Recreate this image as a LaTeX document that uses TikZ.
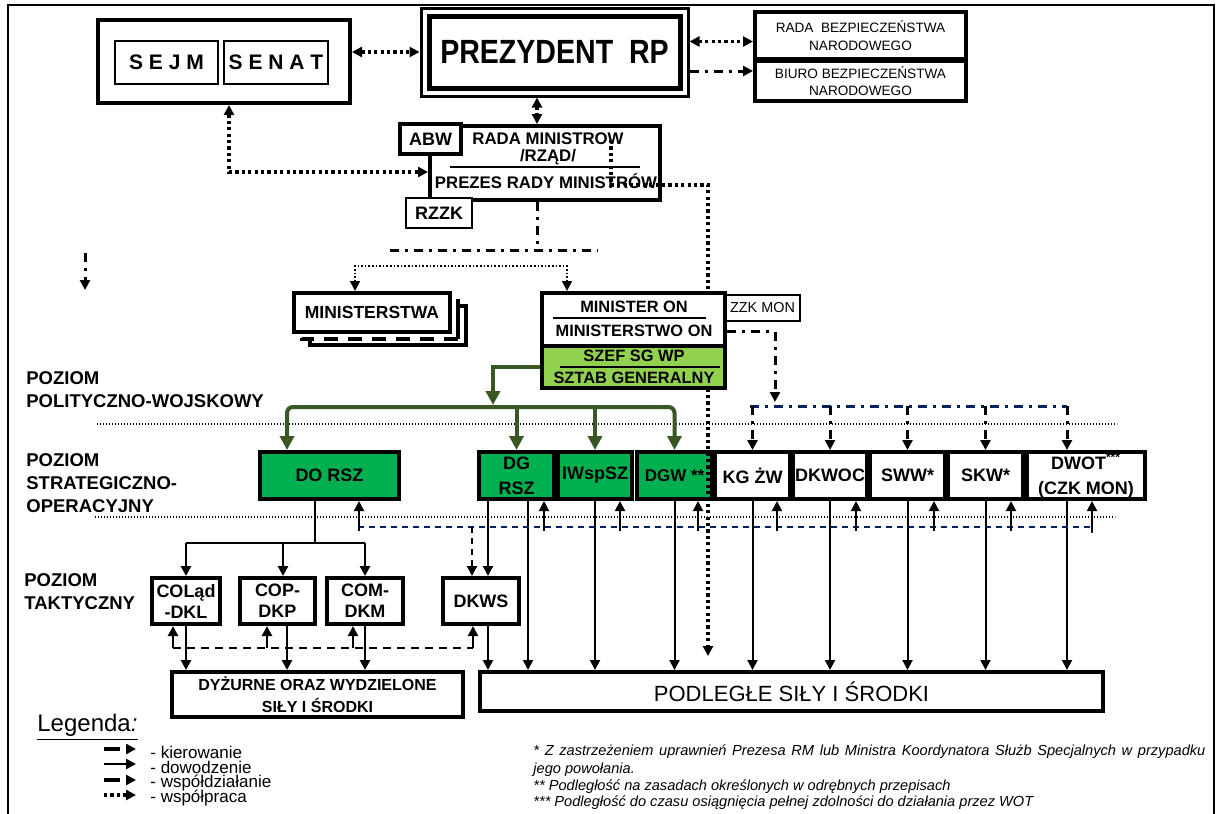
\documentclass[tikz,border=0pt]{standalone}
\usepackage{fontspec}
\setmainfont{Liberation Sans}
\newfontfamily\narrowsans[FakeStretch=0.85]{Liberation Sans}
\usetikzlibrary{arrows.meta}

\definecolor{arrowgreen}{RGB}{56,87,35}
\definecolor{boxgreen}{RGB}{0,176,80}
\definecolor{palegreen}{RGB}{146,208,80}
\definecolor{darknavy}{RGB}{0,32,96}

\tikzset{
  box/.style={draw,line width=2pt,fill=white,inner sep=0pt,align=center,
    font=\fontsize{9}{10.5}\selectfont\bfseries},
  thinbox/.style={box,line width=0.8pt},
  greenbox/.style={box,fill=boxgreen},
  arr/.style={-{Triangle[length=5pt,width=5pt]}},
  twoway/.style={{Triangle[length=5pt,width=5pt]}-{Triangle[length=5pt,width=5pt]}},
  cmd/.style={line width=1pt,arr},
  cmdthick/.style={line width=1.4pt,arr},
  kier/.style={line width=1.5pt,dash pattern=on 4.5pt off 3pt on 1.5pt off 3pt},
  wspd/.style={line width=1pt,dash pattern=on 3pt off 2.5pt},
  wspp/.style={line width=1.6pt,dash pattern=on 1.6pt off 1.6pt},
  levelline/.style={line width=0.6pt,dash pattern=on 0.6pt off 0.9pt},
  greenline/.style={arrowgreen,line width=2pt},
  greentip/.style={-{Triangle[length=7pt,width=7pt]}},
  greentips/.style={{Triangle[length=7pt,width=7pt]}-{Triangle[length=7pt,width=7pt]}},
  levelname/.style={anchor=west,align=left,inner sep=0pt,font=\fontsize{9.25}{11.5}\selectfont\bfseries},
  inbox/.style={inner sep=0pt,font=\fontsize{8.2}{10}\selectfont\bfseries},
  legtext/.style={anchor=west,inner sep=0pt,font=\fontsize{8.5}{9}\selectfont},
  footline/.style={anchor=west,inner sep=0pt,font=\fontsize{7.3}{8}\selectfont\itshape},
}

\begin{document}
\begin{tikzpicture}[x=0.5pt,y=-0.5pt]
  \useasboundingbox (0,0) rectangle (1221,814);
  \draw[line width=1pt] (8,814) -- (8,5) -- (1214,5) -- (1214,814);

  % level lines
  \coordinate (lvla) at (97,424);
  \coordinate (lvlb) at (95,517);
  \draw[levelline] (lvla) -- ++(1020,0);
  \draw[levelline] (lvlb) -- ++(1020,0);
  \node[levelname] (polwoj) at (26,389.5) {POZIOM\\POLITYCZNO-WOJSKOWY};
  \node[levelname] (strop) at (26,483.5) {POZIOM\\STRATEGICZNO-\\OPERACYJNY};
  \node[levelname] (takt) at (24,591.5) {POZIOM\\TAKTYCZNY};

  % top
  \node[box,minimum width=126pt,minimum height=41.5pt] (parl) at (224,61.5) {};
  \node[thinbox,minimum width=51.5pt,minimum height=21.5pt,font=\fontsize{10.5}{12}\selectfont\bfseries] (sejm) at (166.5,62.5) {S E J M};
  \node[thinbox,minimum width=52pt,minimum height=21.5pt,font=\fontsize{10.5}{12}\selectfont\bfseries] (senat) at (276,62.5) {S E N A T};
  \node[draw,line width=1.5pt,minimum width=133.5pt,minimum height=44pt] (prezframe) at (554.5,52) {};
  \node[box,line width=2.5pt,minimum width=125.5pt,minimum height=36pt,font=\fontsize{16.8}{18}\narrowsans\bfseries] (prez) at (554.5,52) {PREZYDENT\ \ RP};
  \node[box,minimum width=105.5pt,minimum height=23.5pt,font=\fontsize{6.8}{9}\selectfont] (rbn) at (860.5,35.5) {RADA\ \ BEZPIECZEŃSTWA\\NARODOWEGO};
  \node[box,minimum width=105.5pt,minimum height=20pt,font=\fontsize{6.8}{8.5}\selectfont] (bbn) at (860.5,81) {BIURO BEZPIECZEŃSTWA\\NARODOWEGO};

  \node[box,minimum width=115pt,minimum height=37pt] (rm) at (545,163) {};
  \node[inbox,font=\fontsize{8.4}{10}\selectfont\bfseries] (rmname) at (548,139) {RADA MINISTROW};
  \node[inbox,font=\fontsize{8.4}{10}\selectfont\bfseries] (rzad) at (548,157) {/RZĄD/};
  \draw[line width=0.8pt] (450,167) -- (640,167);
  \node[inbox,font=\fontsize{8.4}{10}\selectfont\bfseries] (prm) at (546,181) {PREZES RADY MINISTRÓW};
  \node[box,minimum width=30.5pt,minimum height=15pt] (abw) at (430.5,139) {ABW};
  \node[thinbox,minimum width=33pt,minimum height=15pt] (rzzk) at (439,213) {RZZK};

  % ministerstwa
  \node[box,minimum width=78pt,minimum height=19.5pt] (minback) at (388,325.5) {};
  \node[fill=white,inner sep=0pt,minimum width=78pt,minimum height=19.5pt] (minmid) at (380,319) {};
  \draw[line width=2pt] (minmid.north east) -- (minmid.south east);
  \draw[line width=2pt,dash pattern=on 7pt off 5pt] (minmid.south east) -- (minmid.south west) -- (minmid.north west);
  \node[box,minimum width=78pt,minimum height=19.5pt,font=\fontsize{8.75}{10}\selectfont\bfseries] (min) at (372,312.5) {MINISTERSTWA};

  % strategic row
  \node[greenbox,minimum width=69.5pt,minimum height=23.5pt] (dorsz) at (329.5,475.5) {DO RSZ};
  \node[greenbox,minimum width=37.5pt,minimum height=23.5pt,font=\fontsize{9}{12.5}\selectfont\bfseries] (dgrsz) at (516.5,475.5) {DG\\RSZ};
  \node[greenbox,minimum width=37pt,minimum height=23.5pt] (iwsp) at (595,475.5) {IWspSZ};
  \node[greenbox,minimum width=37.5pt,minimum height=23.5pt,font=\fontsize{8.5}{10}\selectfont\bfseries] (dgw) at (674.5,475.5) {DGW **};
  \node[box,minimum width=37.5pt,minimum height=23.5pt] (kgzw) at (752.5,475.5) {KG ŻW};
  \node[box,minimum width=37pt,minimum height=23.5pt] (dkwoc) at (830,475.5) {DKWOC};
  \node[box,minimum width=37.5pt,minimum height=23.5pt] (sww) at (907.5,475.5) {SWW*};
  \node[box,minimum width=37.5pt,minimum height=23.5pt] (skw) at (985.5,475.5) {SKW*};
  \node[box,minimum width=59pt,minimum height=23.5pt,font=\fontsize{9}{12.5}\selectfont\bfseries] (dwot) at (1086,475.5) {DWOT\textsuperscript{***}\\(CZK MON)};

  % tactical row
  \node[box,minimum width=34pt,minimum height=23pt] (colad) at (186,601) {COLąd\\-DKL};
  \node[box,minimum width=37.5pt,minimum height=23pt] (cop) at (277.5,601) {COP-\\DKP};
  \node[box,minimum width=38pt,minimum height=23pt] (com) at (365,601) {COM-\\DKM};
  \node[box,minimum width=38pt,minimum height=23pt] (dkws) at (481,601) {DKWS};

  \node[box,minimum width=145.5pt,minimum height=22.5pt,font=\fontsize{8}{11}\selectfont\bfseries] (dyz) at (317.5,694.5) {DYŻURNE ORAZ WYDZIELONE\\SIŁY I ŚRODKI};
  \node[box,minimum width=311.5pt,minimum height=19.5pt,font=\fontsize{11}{13}\selectfont] (podl) at (791.5,691.5) {PODLEGŁE SIŁY I ŚRODKI};

  % long line from the government
  \coordinate (rmin) at (611,140);
  \coordinate (wpturn) at (708,185);
  \coordinate (wpend) at (708,656);
  \draw[wspp,arr] (rmin) |- (wpturn) -- (wpend);

  % minister
  \node[thinbox,minimum width=37.5pt,minimum height=13pt,font=\fontsize{7.2}{8}\selectfont] (zzkmon) at (762.5,308) {ZZK MON};
  \node[box,minimum width=91.5pt,minimum height=26.5pt] (mon) at (633.5,319.5) {};
  \node[box,fill=palegreen,minimum width=91.5pt,minimum height=21pt] (szef) at (633.5,367) {};
  \node[inbox] (monname) at (634,307) {MINISTER ON};
  \draw[line width=0.8pt] (553,318) -- (706,318);
  \node[inbox] (montxt) at (634,331) {MINISTERSTWO ON};
  \node[inbox] (szefname) at (634,356) {SZEF SG WP};
  \draw[line width=0.8pt] (560,367) -- (720,367);
  \node[inbox] (sgtxt) at (634,378) {SZTAB GENERALNY};

  % top connectors
  \draw[wspp,twoway] (parl.east |- prezframe.west) -- (prezframe.west);
  \coordinate (rbnin) at ([yshift=-3pt]rbn.west);
  \draw[wspp,twoway] (prezframe.east |- rbnin) -- (rbnin);
  \coordinate (bbnin) at ([yshift=5pt]bbn.west);
  \draw[kier,arr] (prezframe.east |- bbnin) -- (bbnin);
  \coordinate (rmtop) at ([xshift=-4pt]rm.north);
  \draw[wspp,twoway] (prezframe.south -| rmtop) -- (rmtop);
  \coordinate (rmleft) at ([yshift=-4.5pt]rm.west);
  \coordinate (parlfoot) at ([xshift=2.5pt]parl.south);
  \draw[wspp,twoway] (parlfoot) |- (rmleft);

  \coordinate (rmfoot) at ([xshift=-4pt]rm.south);
  \coordinate (kl) at (390,250);
  \coordinate (kr) at (598,250);
  \draw[kier] (rmfoot) -- (rmfoot |- kl);
  \draw[kier] (kl) -- (kr);
  \coordinate (ma) at (355,266);
  \coordinate (mb) at (567,266);
  \draw[line width=0.8pt,dash pattern=on 0.8pt off 1pt,twoway] (ma |- min.north) -- (ma) -- (mb) -- (mb |- mon.north);

  \coordinate (stray) at (85,253);
  \draw[kier,arr] (stray) -- ++(0,37);

  % minister to the services
  \coordinate (monr) at ([yshift=-6pt]mon.east);
  \coordinate (navytip) at (775,402);
  \draw[kier,arr] (monr) -| (navytip);
  \coordinate (nvl) at (750,406);
  \coordinate (nvr) at (1067,406);
  \draw[kier,darknavy] (nvl) -- (nvr);
  \draw[kier,arr] (kgzw.north |- nvl) -- (kgzw.north);
  \draw[kier,arr] (dkwoc.north |- nvl) -- (dkwoc.north);
  \draw[kier,arr] (sww.north |- nvl) -- (sww.north);
  \draw[kier,arr] (skw.north |- nvl) -- (skw.north);
  \draw[kier,arr] (nvr) -- (nvr |- dwot.north);

  % general staff
  \coordinate (gl) at (287,407);
  \coordinate (gtip) at (493,405);
  \draw[greenline,greentip] (szef.west) -| (gtip);
  \draw[greenline,greentips,rounded corners=3pt] (dorsz.north -| gl) -- (gl) -- (gl -| dgw.north) -- (dgw.north);
  \draw[greenline,greentip] (gl -| dgrsz.north) -- (dgrsz.north);
  \draw[greenline,greentip] (gl -| iwsp.north) -- (iwsp.north);

  % down to the forces
  \coordinate (colA) at (488,0);
  \coordinate (colB) at (528,0);
  \coordinate (colC) at (1067,0);
  \draw[cmd] (dgrsz.south -| colA) -- (dkws.north -| colA);
  \draw[cmd] (dgrsz.south -| colB) -- (podl.north -| colB);
  \draw[cmd] (iwsp.south) -- (iwsp.south |- podl.north);
  \draw[cmd] (dgw.south) -- (dgw.south |- podl.north);
  \draw[cmd] (kgzw.south) -- (kgzw.south |- podl.north);
  \draw[cmd] (dkwoc.south) -- (dkwoc.south |- podl.north);
  \draw[cmd] (sww.south) -- (sww.south |- podl.north);
  \draw[cmd] (skw.south) -- (skw.south |- podl.north);
  \draw[cmd] (dwot.south -| colC) -- (podl.north -| colC);
  \draw[cmdthick] (dkws.south -| colA) -- (podl.north -| colA);

  % cooperation, strategic level
  \coordinate (nd) at (358,527);
  \coordinate (ndend) at (1092,527);
  \draw[wspd,darknavy] (nd) -- (ndend) -- ++(0,6);
  \coordinate (dk) at (472,527);
  \draw[wspd,arr] (dk) -- (dk |- dkws.north);
  \coordinate (u1) at (359,531);
  \coordinate (u2) at (544,531);
  \coordinate (u3) at (620,531);
  \coordinate (u4) at (698,531);
  \coordinate (u5) at (777,531);
  \coordinate (u6) at (856,531);
  \coordinate (u7) at (934,531);
  \coordinate (u8) at (1011,531);
  \coordinate (u9) at (1092,531);
  \draw[cmd] (u1) -- (u1 |- dorsz.south);
  \draw[cmd] (u2) -- (u2 |- dgrsz.south);
  \draw[cmd] (u3) -- (u3 |- iwsp.south);
  \draw[cmd] (u4) -- (u4 |- dgw.south);
  \draw[cmd] (u5) -- (u5 |- kgzw.south);
  \draw[cmd] (u6) -- (u6 |- dkwoc.south);
  \draw[cmd] (u7) -- (u7 |- sww.south);
  \draw[cmd] (u8) -- (u8 |- skw.south);
  \draw[cmd] (u9) -- (u9 |- dwot.south);

  % tactical level
  \coordinate (tk) at (315,543);
  \coordinate (copin) at (283,0);
  \draw[line width=1.4pt] (dorsz.south -| tk) -- (tk);
  \draw[line width=1.4pt] (colad.north |- tk) -- (com.north |- tk);
  \draw[cmdthick] (colad.north |- tk) -- (colad.north);
  \draw[cmdthick] (tk -| copin) -- (cop.north -| copin);
  \draw[cmdthick] (com.north |- tk) -- (com.north);

  \coordinate (td) at (173,648);
  \coordinate (t2) at (267,648);
  \coordinate (t3) at (353,648);
  \coordinate (t4) at (473,648);
  \draw[line width=1.2pt,dash pattern=on 4pt off 3pt] (td) -- (t4);
  \draw[cmd] (td) -- (td |- colad.south);
  \draw[cmd] (t2) -- (t2 |- cop.south);
  \draw[cmd] (t3) -- (t3 |- com.south);
  \draw[cmd] (t4) -- (t4 |- dkws.south);
  \coordinate (copout) at (287,0);
  \draw[cmdthick] (colad.south) -- (colad.south |- dyz.north);
  \draw[cmdthick] (cop.south -| copout) -- (dyz.north -| copout);
  \draw[cmdthick] (com.south) -- (com.south |- dyz.north);

  % legend
  \node[anchor=west,inner sep=0pt,font=\fontsize{12}{14}\selectfont] (legend) at (37,727) {\underline{Legenda\textit{:}}};
  \coordinate (lk) at (104,749);
  \coordinate (ld) at (104,764);
  \coordinate (lw) at (104,780);
  \coordinate (lp) at (104,795);
  \draw[line width=2pt,dash pattern=on 8pt off 4pt,arr] (lk) -- ++(32,0);
  \draw[line width=1.4pt,arr] (ld) -- ++(32,0);
  \draw[line width=2pt,dash pattern=on 8pt off 4pt,arr] (lw) -- ++(32,0);
  \draw[wspp,arr] (lp) -- ++(32,0);
  \node[legtext] (lkt) at (150,752) {- kierowanie};
  \node[legtext] (ldt) at (150,767) {- dowodzenie};
  \node[legtext] (lwt) at (150,783) {- współdziałanie};
  \node[legtext] (lpt) at (150,798) {- współpraca};

  % footnotes
  \node[footline] (fn1) at (533,752) {\makebox[336pt][s]{* Z zastrzeżeniem uprawnień Prezesa RM lub Ministra Koordynatora Służb Specjalnych w przypadku}};
  \node[footline] (fn2) at (533,770) {jego powołania.};
  \node[footline] (fn3) at (533,787) {** Podległość na zasadach określonych w odrębnych przepisach};
  \node[footline] (fn4) at (533,803) {*** Podległość do czasu osiągnięcia pełnej zdolności do działania przez WOT};
\end{tikzpicture}
\end{document}
